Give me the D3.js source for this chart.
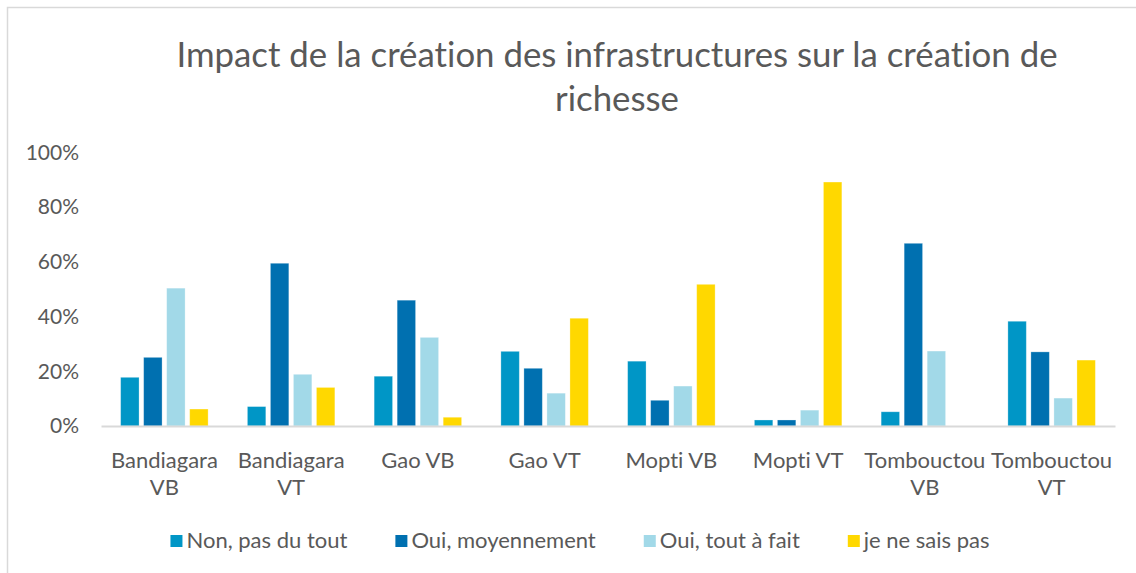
<!DOCTYPE html>
<html>
<head>
<meta charset="utf-8">
<script src="https://cdn.jsdelivr.net/npm/d3@7"></script>
<style>
  body { margin: 0; background: #fff; }
  svg { display: block; font-family: Lato, "Open Sans", sans-serif; font-variant-ligatures: none; }
</style>
</head>
<body>
<div id="chart"></div>
<script>
// data
const categories = ["Bandiagara VB", "Bandiagara VT", "Gao VB", "Gao VT", "Mopti VB", "Mopti VT", "Tombouctou VB", "Tombouctou VT"];
const series = ["Non, pas du tout", "Oui, moyennement", "Oui, tout à fait", "je ne sais pas"];
const nonPasDuTout = [0.178, 0.071, 0.182, 0.273, 0.237, 0.022, 0.052, 0.383];
const ouiMoyennement = [0.251, 0.595, 0.460, 0.211, 0.094, 0.022, 0.668, 0.271];
const ouiToutAFait = [0.504, 0.189, 0.324, 0.120, 0.146, 0.058, 0.274, 0.102];
const neSaisPas = [0.062, 0.141, 0.032, 0.394, 0.518, 0.892, 0, 0.241];
const yTicks = [0, 0.2, 0.4, 0.6, 0.8, 1];
const colors = ["#0096c6", "#0070b0", "#a2d9e8", "#ffd800"];
const titleLines = ["Impact de la création des infrastructures sur la création de", "richesse"];

const values = [nonPasDuTout, ouiMoyennement, ouiToutAFait, neSaisPas];

const width = 1136, height = 573;
const textColor = "#595959";
const gridColor = "#d9d9d9";

var svg = d3.select("#chart").append("svg")
    .attr("width", width)
    .attr("height", height);

// outer chart frame (only top and left edge are inside the picture)
svg.append("path")
    .attr("d", `M7.5,${height} V7.5 H${width}`)
    .attr("fill", "none")
    .attr("stroke", gridColor)
    .attr("stroke-width", 1.5);

// title
svg.append("text")
    .attr("text-anchor", "middle")
    .attr("fill", textColor)
    .attr("font-size", 34.8)
    .selectAll("tspan")
    .data(titleLines)
    .join("tspan")
      .attr("x", 617)
      .attr("y", (d, i) => 67 + i * 44)
      .text(d => d);

const x0 = d3.scaleBand()
    .domain(categories)
    .range([101, 1115]);

const x1 = d3.scaleBand()
    .domain(series)
    .range([x0.bandwidth() * 0.155, x0.bandwidth() * 0.845])
    .paddingInner(0.2);

const y = d3.scaleLinear()
    .domain([0, 1])
    .range([426, 152.5]);

// y axis labels
const yAxis = svg.append("g")
    .attr("transform", "translate(79,0)")
    .call(d3.axisLeft(y).tickValues(yTicks).tickFormat(d3.format(".0%")).tickSize(0).tickPadding(0));
yAxis.select(".domain").remove();
yAxis.selectAll("text")
    .attr("fill", textColor)
    .attr("font-size", 21)
    .attr("font-family", "Lato, 'Open Sans', sans-serif");

// bars
const groups = svg.append("g")
    .selectAll("g")
    .data(categories)
    .join("g")
      .attr("transform", d => `translate(${x0(d)},0)`);

groups.selectAll("rect")
    .data((c, ci) => series.map((s, si) => ({ s: s, si: si, v: values[si][ci] })))
    .join("rect")
      .attr("x", d => x1(d.s))
      .attr("width", x1.bandwidth())
      .attr("y", d => y(d.v))
      .attr("height", d => y(0) - y(d.v))
      .attr("fill", d => colors[d.si])
      .attr("stroke", "#ffffff")
      .attr("stroke-opacity", 0.35)
      .attr("stroke-width", 0.8);

// baseline
const xAxis = svg.append("g")
    .attr("transform", `translate(0,${y(0)})`)
    .call(d3.axisBottom(x0).tickSize(0).tickFormat(""));
xAxis.select(".domain")
    .attr("stroke", gridColor)
    .attr("stroke-width", 2);

// category labels, wrapped in two lines like the original
const labelLines = {
  "Bandiagara VB": ["Bandiagara", "VB"],
  "Bandiagara VT": ["Bandiagara", "VT"],
  "Tombouctou VB": ["Tombouctou", "VB"],
  "Tombouctou VT": ["Tombouctou", "VT"]
};
svg.append("g")
    .selectAll("text")
    .data(categories)
    .join("text")
      .attr("text-anchor", "middle")
      .attr("fill", textColor)
      .attr("font-size", 22)
      .each(function(d) {
        const lines = labelLines[d] || [d];
        d3.select(this).selectAll("tspan")
          .data(lines)
          .join("tspan")
            .attr("x", x0(d) + x0.bandwidth() / 2)
            .attr("y", (l, i) => 468 + i * 27)
            .text(l => l);
      });

// legend
const legend = svg.append("g").attr("font-size", 22).attr("fill", textColor);
const items = legend.selectAll("g")
    .data(series)
    .join("g");
items.append("rect")
    .attr("width", 12)
    .attr("height", 12)
    .attr("y", 535)
    .attr("fill", (d, i) => colors[i]);
items.append("text")
    .attr("x", 16)
    .attr("y", 548)
    .text(d => d);

let pos = 0;
const gap = 48;
const offsets = [];
items.each(function() {
  offsets.push(pos);
  pos += 16 + this.querySelector("text").getComputedTextLength() + gap;
});
const legendWidth = pos - gap;
const legendStart = 580 - legendWidth / 2;
items.attr("transform", (d, i) => `translate(${legendStart + offsets[i]},0)`);
</script>
</body>
</html>
